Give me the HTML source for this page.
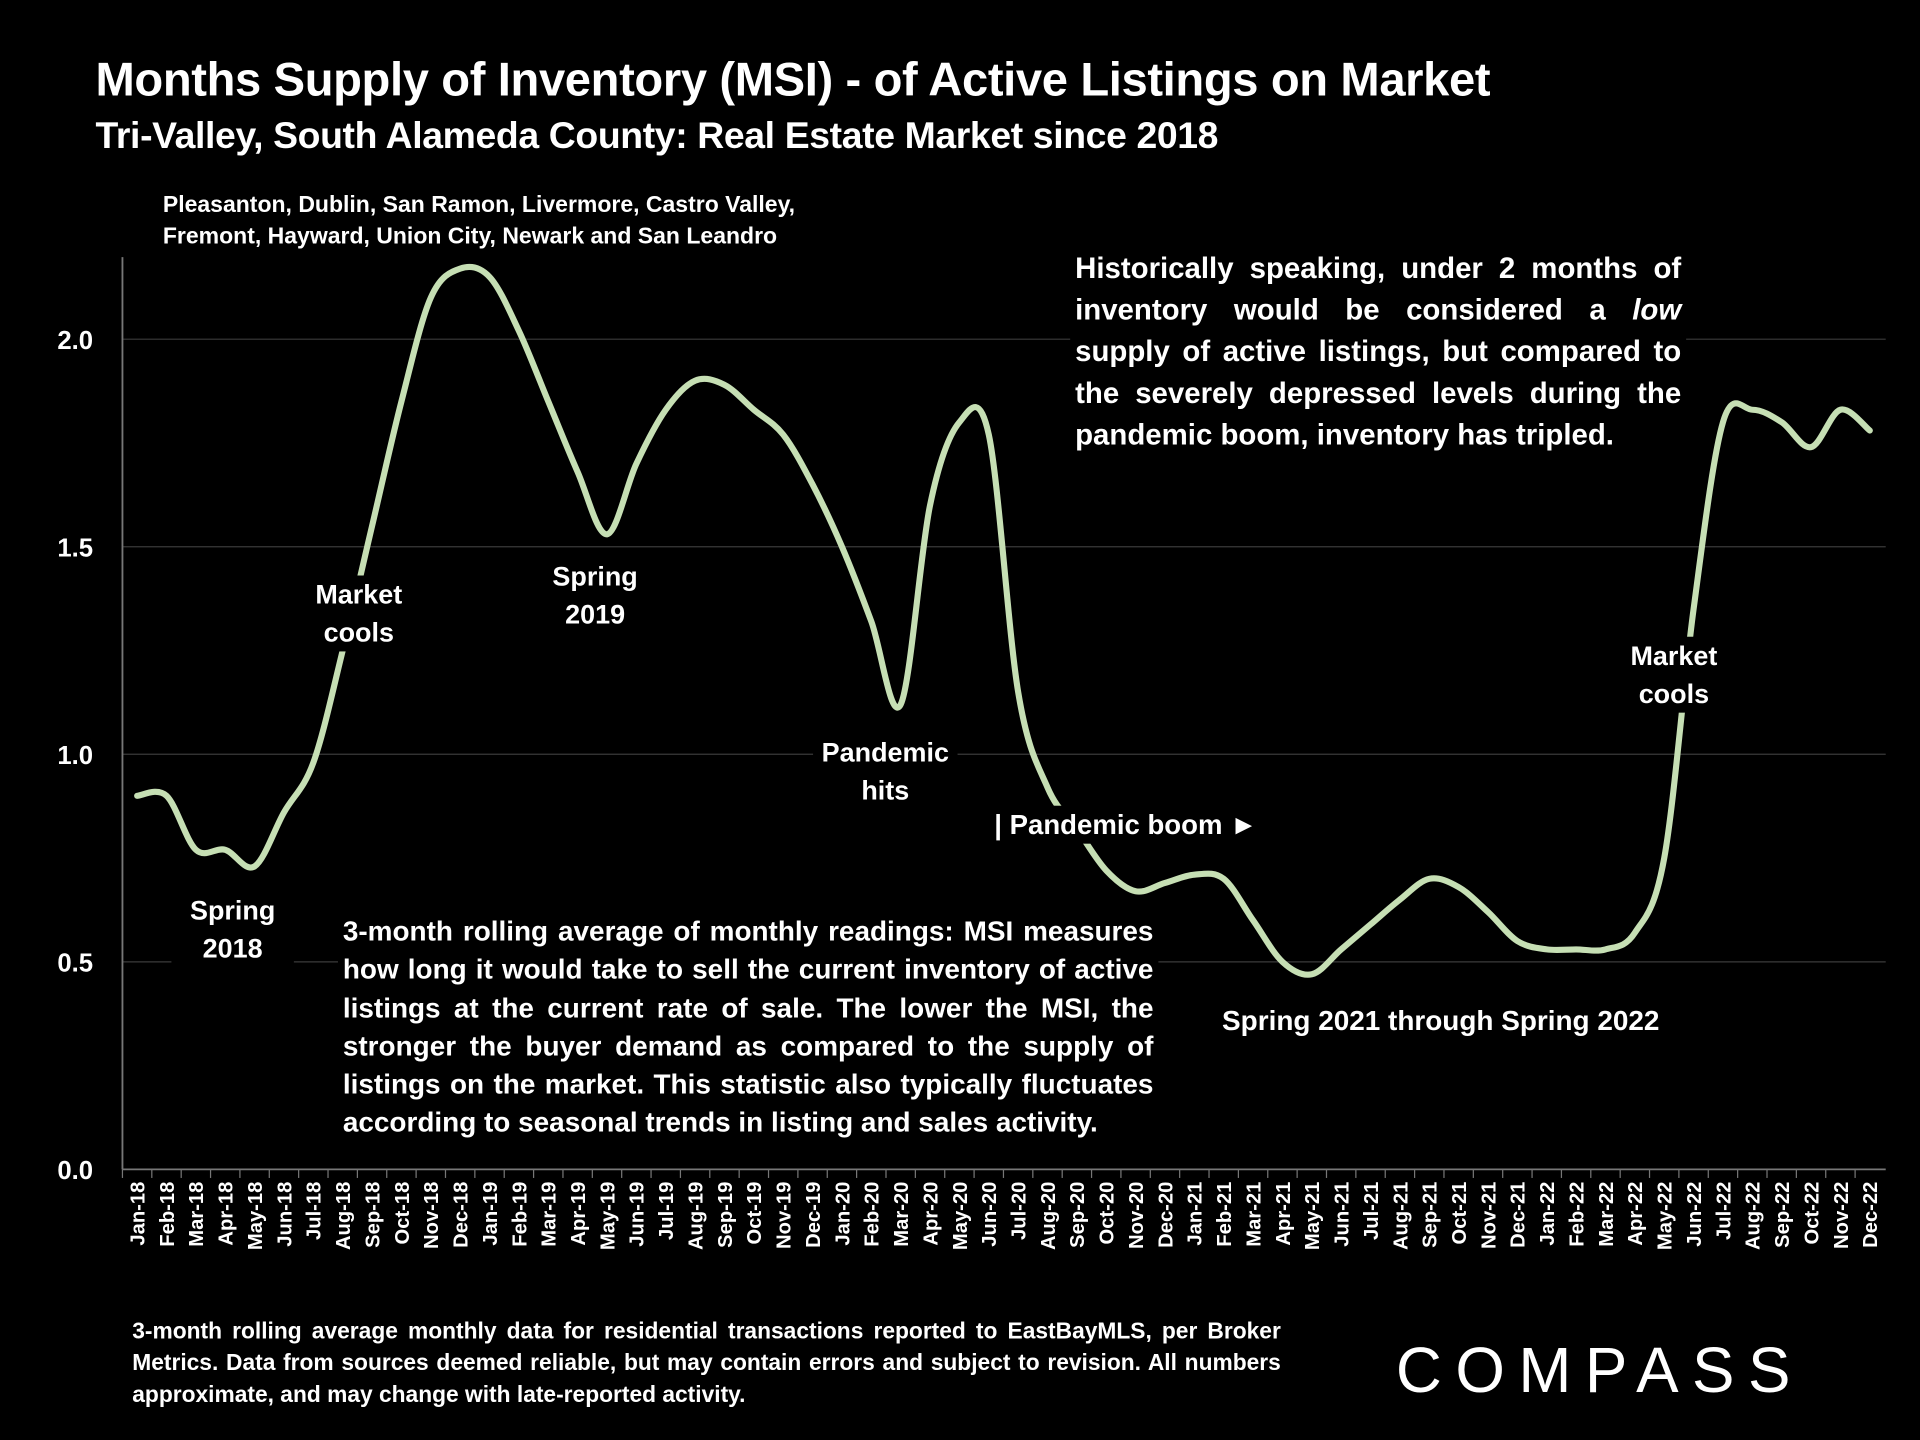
<!DOCTYPE html>
<html><head><meta charset="utf-8">
<style>
html,body{margin:0;padding:0;background:#000;}
body{width:1920px;height:1440px;overflow:hidden;}
#wrap{position:absolute;left:0;top:0;width:1568px;height:1176px;transform:scale(1.22449);transform-origin:0 0;font-family:"Liberation Sans",sans-serif;color:#fff;}
.t{position:absolute;font-weight:bold;white-space:nowrap;}
.j{position:absolute;font-weight:bold;text-align:justify;text-align-last:left;}
.lbl{position:absolute;font-weight:bold;text-align:center;background:#000;font-size:22px;line-height:31px;padding:0 4px;}
</style></head>
<body>
<div id="wrap">
<svg id="chart" width="1568" height="1176" style="position:absolute;left:0;top:0"></svg>
<div class="t" style="left:78px;top:44px;font-size:38.5px;letter-spacing:-0.3px">Months Supply of Inventory (MSI) - of Active Listings on Market</div>
<div class="t" style="left:78px;top:94px;font-size:30.5px;letter-spacing:-0.3px">Tri-Valley, South Alameda County: Real Estate Market since 2018</div>
<div class="t" style="left:133px;top:154px;font-size:18.8px;line-height:26px">Pleasanton, Dublin, San Ramon, Livermore, Castro Valley,<br>Fremont, Hayward, Union City, Newark and San Leandro</div>
<div class="j" style="left:874px;top:203px;width:495px;font-size:24px;line-height:34px;background:#000;padding:0 4px">Historically speaking, under 2 months of inventory would be considered a <i>low</i> supply of active listings, but compared to the severely depressed levels during the pandemic boom, inventory has tripled.</div>
<div class="j" style="left:276px;top:745px;width:662px;font-size:22.8px;line-height:31.3px;background:#000;padding:0 4px">3-month rolling average of monthly readings: MSI measures how long it would take to sell the current inventory of active listings at the current rate of sale. The lower the MSI, the stronger the buyer demand as compared to the supply of listings on the market. This statistic also typically fluctuates according to seasonal trends in listing and sales activity.</div>
<div class="j" style="left:108px;top:1074px;width:938px;font-size:18.6px;line-height:26px">3-month rolling average monthly data for residential transactions reported to EastBayMLS, per Broker Metrics. Data from sources deemed reliable, but may contain errors and subject to revision. All numbers approximate, and may change with late-reported activity.</div>
<div class="t" style="left:1140px;top:1090px;font-size:52px;font-weight:normal;letter-spacing:11px">COMPASS</div>
<div class="lbl" style="left:140px;top:728px;width:92px">Spring<br>2018</div>
<div class="lbl" style="left:243px;top:470px;width:92px">Market<br>cools</div>
<div class="lbl" style="left:436px;top:455px;width:92px">Spring<br>2019</div>
<div class="lbl" style="left:664px;top:599px;width:110px">Pandemic<br>hits</div>
<div class="lbl" style="left:808px;top:658px;text-align:left;font-size:22.5px">| Pandemic boom ►</div>
<div class="lbl" style="left:994px;top:818px;text-align:left;font-size:22.8px">Spring 2021 through Spring 2022</div>
<div class="lbl" style="left:1317px;top:520px;width:92px">Market<br>cools</div>
</div>
<script>
const months=["Jan-18","Feb-18","Mar-18","Apr-18","May-18","Jun-18","Jul-18","Aug-18","Sep-18","Oct-18","Nov-18","Dec-18","Jan-19","Feb-19","Mar-19","Apr-19","May-19","Jun-19","Jul-19","Aug-19","Sep-19","Oct-19","Nov-19","Dec-19","Jan-20","Feb-20","Mar-20","Apr-20","May-20","Jun-20","Jul-20","Aug-20","Sep-20","Oct-20","Nov-20","Dec-20","Jan-21","Feb-21","Mar-21","Apr-21","May-21","Jun-21","Jul-21","Aug-21","Sep-21","Oct-21","Nov-21","Dec-21","Jan-22","Feb-22","Mar-22","Apr-22","May-22","Jun-22","Jul-22","Aug-22","Sep-22","Oct-22","Nov-22","Dec-22"];
const msi=[0.90,0.90,0.77,0.77,0.73,0.86,0.98,1.25,1.55,1.85,2.10,2.17,2.15,2.02,1.85,1.68,1.53,1.70,1.83,1.90,1.89,1.83,1.77,1.65,1.50,1.32,1.12,1.60,1.80,1.77,1.15,0.92,0.82,0.72,0.67,0.69,0.71,0.70,0.60,0.50,0.47,0.53,0.59,0.65,0.70,0.68,0.62,0.55,0.53,0.53,0.53,0.57,0.75,1.35,1.80,1.83,1.80,1.74,1.83,1.78];
const yTicks=[0,0.5,1,1.5,2];
const yTickLabels=["0.0","0.5","1.0","1.5","2.0"];
const NS="http://www.w3.org/2000/svg";
const svg=document.getElementById('chart');
const x0=100,x1=1540,yBase=955,yTop=210;
const xs=i=>112+i*(1527-112)/(months.length-1);
const ys=v=>yBase-v*339;
function mk(t,a){const e=document.createElementNS(NS,t);for(const k in a)e.setAttribute(k,a[k]);svg.appendChild(e);return e;}
yTicks.forEach((v,i)=>{
  if(v>0){const g=mk('line',{x1:x0,x2:x1,y1:ys(v),y2:ys(v),stroke:'#3a3a3a','stroke-width':1});
  
  }
  const t=mk('text',{x:76,y:ys(v)+8,'text-anchor':'end',fill:'#fff','font-size':21,'font-weight':'bold','font-family':'Liberation Sans'});
  t.textContent=yTickLabels[i];
  
  
});
const ya=mk('line',{x1:x0,x2:x0,y1:yTop,y2:yBase,stroke:'#777','stroke-width':1.5});


const xa=mk('line',{x1:x0,x2:x1,y1:yBase,y2:yBase,stroke:'#777','stroke-width':1.5});


months.forEach((m,i)=>{
  const tk=mk('line',{x1:xs(i)-12,x2:xs(i)-12,y1:yBase,y2:yBase+7,stroke:'#777','stroke-width':1});
  
  
  const t=mk('text',{x:0,y:0,'text-anchor':'end',fill:'#fff','font-size':16.5,'font-weight':'bold','font-family':'Liberation Sans',transform:`translate(${xs(i)+6},${yBase+10}) rotate(-90)`});
  t.textContent=m;
  
  
});
const P=msi.map((v,i)=>[xs(i),ys(v)]);
let d=`M${P[0][0]},${P[0][1]}`;
for(let i=0;i<P.length-1;i++){
  const p0=P[Math.max(0,i-1)],p1=P[i],p2=P[i+1],p3=P[Math.min(P.length-1,i+2)];
  const c1=[p1[0]+(p2[0]-p0[0])/6,p1[1]+(p2[1]-p0[1])/6];
  const c2=[p2[0]-(p3[0]-p1[0])/6,p2[1]-(p3[1]-p1[1])/6];
  d+=` C${c1[0]},${c1[1]} ${c2[0]},${c2[1]} ${p2[0]},${p2[1]}`;
}
const line=mk('path',{d:d,fill:'none',stroke:'#c6dfb4','stroke-width':5,'stroke-linecap':'round'});


</script>
</body></html>
